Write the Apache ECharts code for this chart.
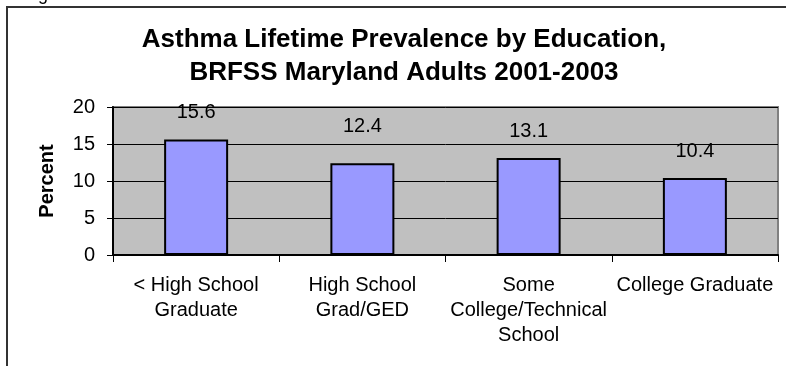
<!DOCTYPE html>
<html>
<head>
<meta charset="utf-8">
<script src="https://cdn.jsdelivr.net/npm/echarts@6/dist/echarts.min.js"></script>
<style>
  html, body { margin: 0; padding: 0; background: #ffffff; }
  #chart { width: 786px; height: 366px; }
</style>
</head>
<body>
<div id="chart"></div>
<script>
// Education groups and lifetime asthma prevalence (%)
const categories = [
  '< High School\nGraduate',
  'High School\nGrad/GED',
  'Some\nCollege/Technical\nSchool',
  'College Graduate'
];
const prevalence = [15.6, 12.4, 13.1, 10.4];
const yTicks = [0, 5, 10, 15, 20];

const FONT = "'Liberation Sans', Arial, sans-serif";

const chart = echarts.init(document.getElementById('chart'), null, { renderer: 'canvas' });

chart.setOption({
  animation: false,
  backgroundColor: '#ffffff',
  title: {
    text: 'Asthma Lifetime Prevalence by Education,\nBRFSS Maryland Adults 2001-2003',
    left: 399,
    top: 18,
    textAlign: 'center',
    textStyle: {
      fontFamily: FONT,
      fontSize: 26,
      fontWeight: 'bold',
      color: '#000000',
      lineHeight: 33
    }
  },
  graphic: [
    // chart frame (left and top edges)
    {
      type: 'polyline',
      shape: { points: [[7, 366], [7, 7], [786, 7]] },
      style: { stroke: '#333333', lineWidth: 2, fill: null },
      z: 10
    },
    {
      type: 'text',
      left: 23,
      top: -14,
      style: { text: 'Figure 10', font: '18px ' + FONT, fill: '#000000' }
    }
  ],
  grid: {
    left: 113,
    right: 8,
    top: 107,
    bottom: 111,
    show: true,
    backgroundColor: '#C0C0C0',
    borderColor: '#808080',
    borderWidth: 2
  },
  xAxis: {
    type: 'category',
    data: categories,
    boundaryGap: true,
    axisLine: { show: true, lineStyle: { color: '#000000', width: 2 } },
    axisTick: { show: true, alignWithLabel: false, length: 7, lineStyle: { color: '#000000', width: 1 } },
    axisLabel: {
      interval: 0,
      margin: 18,
      fontFamily: FONT,
      fontSize: 20,
      lineHeight: 25,
      color: '#000000',
      align: 'center'
    },
    splitLine: { show: false }
  },
  yAxis: {
    type: 'value',
    min: yTicks[0],
    max: yTicks[yTicks.length - 1],
    interval: yTicks[1] - yTicks[0],
    name: 'Percent',
    nameLocation: 'middle',
    nameRotate: 90,
    nameGap: 56,
    nameTextStyle: {
      fontFamily: FONT,
      fontSize: 20,
      fontWeight: 'bold',
      color: '#000000'
    },
    axisLine: { show: true, lineStyle: { color: '#000000', width: 2 } },
    axisTick: { show: true, length: 6, lineStyle: { color: '#000000', width: 1 } },
    axisLabel: {
      margin: 18,
      fontFamily: FONT,
      fontSize: 20,
      color: '#000000'
    },
    splitLine: { show: true, lineStyle: { color: '#000000', width: 1 } }
  },
  series: [{
    type: 'bar',
    data: prevalence.map((v, i) => ({
      value: v,
      label: { distance: i === 1 ? 27 : 17 }
    })),
    barWidth: 64,
    itemStyle: {
      color: '#9999FF',
      borderColor: '#000000',
      borderWidth: 2
    },
    label: {
      show: true,
      position: 'top',
      fontFamily: FONT,
      fontSize: 20,
      color: '#000000',
      formatter: (p) => p.value.toFixed(1)
    }
  }]
});
</script>
</body>
</html>
